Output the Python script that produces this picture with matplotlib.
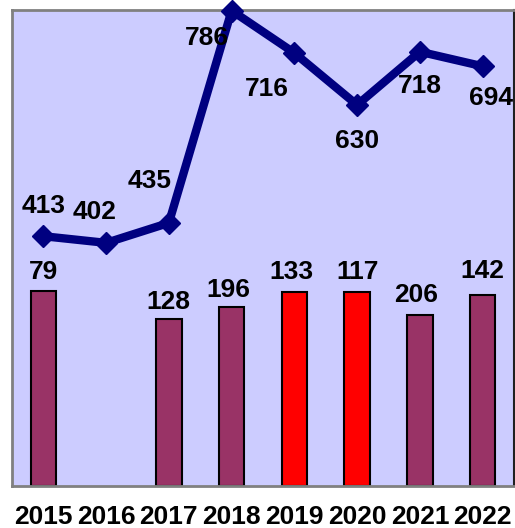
import numpy as np
import matplotlib
matplotlib.use("Agg")
import matplotlib.pyplot as plt

years = ["2015", "2016", "2017", "2018", "2019", "2020", "2021", "2022"]
line_vals = [413, 402, 435, 786, 716, 630, 718, 694]
# bar heights as drawn (same axis), labels printed above them
bar_heights = [322, 0, 276, 296, 321, 321, 283, 316]
bar_labels = ["79", "", "128", "196", "133", "117", "206", "142"]
bar_colors = ["#993366", "#993366", "#993366", "#993366", "#FF0000", "#FF0000", "#993366", "#993366"]

# label offsets in points (dx, dy) for the line values
line_off = [(0, 22), (-8, 22), (-14, 30), (-18, -20), (-20, -26), (0, -26), (0, -25), (6, -23)]
bar_off = [(0, 14), (0, 0), (0, 12), (-2, 12), (-2, 14), (0, 14), (-3, 14), (0, 17)]

plt.rcParams['font.family'] = ['Liberation Sans', 'DejaVu Sans']
fs = 19

fig = plt.figure(figsize=(5.15, 5.28), dpi=100)
ax = fig.add_axes([12 / 515, 42 / 528, 502 / 515, 476 / 528])
ax.set_facecolor("#CCCCFF")

x = np.arange(len(years))
bars = ax.bar(x, bar_heights, width=0.41, color=bar_colors, edgecolor="black", linewidth=1.5, zorder=2)
bars[1].set_visible(False)

ax.plot(x, line_vals, color="#000080", lw=6, marker="D", ms=11, mec="#000080",
        zorder=3, clip_on=False)

for i, v in enumerate(line_vals):
    ax.annotate(str(v), (x[i], v), xytext=line_off[i], textcoords="offset points",
                ha="center", va="center", fontsize=fs, fontweight="bold", zorder=4)

for i, lab in enumerate(bar_labels):
    if lab:
        ax.annotate(lab, (x[i], bar_heights[i]), xytext=bar_off[i], textcoords="offset points",
                    ha="center", va="center", fontsize=fs, fontweight="bold", zorder=4)

ax.set_xlim(-0.5, len(years) - 0.5)
ax.set_ylim(0, 787)
ax.set_yticks([])
ax.set_xticks(x)
ax.set_xticklabels(years, fontsize=fs, fontweight="bold")
ax.tick_params(axis="x", length=0, pad=14)

for s in ["top", "left", "bottom"]:
    ax.spines[s].set_color("#808080")
    ax.spines[s].set_linewidth(2)
ax.spines["right"].set_color("#202020")
ax.spines["right"].set_linewidth(1.5)

fig.savefig("out.png", dpi=100)
